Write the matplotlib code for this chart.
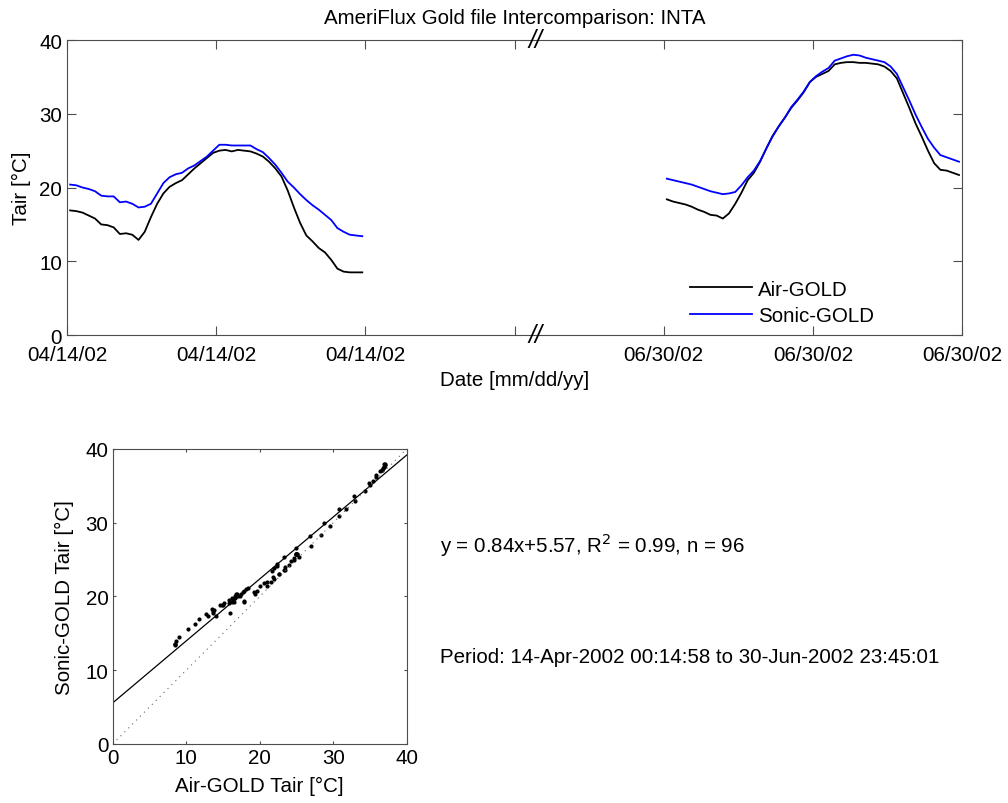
import numpy as np
import matplotlib
matplotlib.use("Agg")
import matplotlib.pyplot as plt

plt.rcParams['font.family'] = ['Liberation Sans', 'DejaVu Sans']
plt.rcParams['font.size'] = 14.8

# half-hourly samples, 00:15 ... 23:45 on each day
air_apr = [16.9, 16.8, 16.6, 16.2, 15.8, 15.0, 14.9, 14.6, 13.7, 13.8, 13.6, 12.9,
           14.0, 16.0, 17.8, 19.2, 20.1, 20.6, 21.0, 21.8, 22.6, 23.3, 24.0, 24.7,
           25.0, 25.1, 24.9, 25.1, 25.0, 24.9, 24.6, 24.2, 23.5, 22.6, 21.5, 19.6,
           17.3, 15.2, 13.5, 12.7, 11.8, 11.2, 10.2, 9.0, 8.6, 8.5, 8.5, 8.5]
sonic_apr = [20.4, 20.3, 20.0, 19.8, 19.5, 18.9, 18.8, 18.8, 18.0, 18.1, 17.8, 17.3,
             17.4, 17.8, 19.2, 20.6, 21.4, 21.8, 22.0, 22.6, 23.0, 23.6, 24.2, 25.0,
             25.8, 25.8, 25.7, 25.7, 25.7, 25.7, 25.2, 24.8, 24.0, 23.1, 22.0, 20.8,
             20.0, 19.1, 18.3, 17.6, 17.0, 16.3, 15.6, 14.5, 14.0, 13.6, 13.5, 13.4]
air_jun = [18.4, 18.1, 17.9, 17.7, 17.4, 17.0, 16.7, 16.3, 16.2, 15.8, 16.5, 17.8,
           19.3, 21.0, 22.0, 23.5, 25.3, 27.0, 28.3, 29.5, 30.8, 31.8, 32.9, 34.3,
           35.0, 35.4, 35.8, 36.7, 36.9, 37.0, 37.0, 36.9, 36.9, 36.8, 36.7, 36.4,
           35.8, 34.8, 32.8, 30.8, 28.7, 26.9, 25.0, 23.3, 22.4, 22.3, 22.0, 21.7]
sonic_jun = [21.2, 21.0, 20.8, 20.6, 20.4, 20.1, 19.8, 19.5, 19.3, 19.1, 19.2, 19.4,
             20.3, 21.4, 22.3, 23.6, 25.3, 26.9, 28.3, 29.5, 30.9, 31.9, 33.0, 34.3,
             35.1, 35.7, 36.2, 37.2, 37.5, 37.8, 38.0, 37.9, 37.6, 37.4, 37.2, 37.0,
             36.4, 35.4, 33.6, 31.8, 29.9, 28.2, 26.6, 25.4, 24.4, 24.1, 23.8, 23.5]

hours = np.arange(48) * 0.5 + 0.25
day_offset = [0, 48]   # second day drawn after the break
tick_labels = ['04/14/02', '04/14/02', '04/14/02', '', '06/30/02', '06/30/02', '06/30/02']

slope, intercept, r2 = 0.84, 5.57, 0.99
frame = '0.3'

fig = plt.figure(figsize=(10.08, 8.04), dpi=100)

# time series panel
ax = fig.add_axes([0.0665, 0.582, 0.888, 0.367])
for i, (a, s) in enumerate([(air_apr, sonic_apr), (air_jun, sonic_jun)]):
    x = hours + day_offset[i]
    ax.plot(x, a, color='k', lw=1.3, label='Air-GOLD' if i == 0 else None)
    ax.plot(x, s, color='#0000ff', lw=1.3, label='Sonic-GOLD' if i == 0 else None)
ax.set_xlim(0, 72)
ax.set_ylim(0, 40)
ax.set_xticks(np.arange(0, 73, 12))
ax.set_xticklabels(tick_labels)
ax.set_yticks([0, 10, 20, 30, 40])
ax.tick_params(direction='in', length=6.5, top=True, right=True, color=frame)
ax.tick_params(axis='x', pad=7.5)
for sp in ax.spines.values():
    sp.set_color(frame)
ax.set_xlabel('Date [mm/dd/yy]', labelpad=4)
ax.set_ylabel('Tair [°C]', labelpad=6)
for yy in (0, 1):
    ax.text(37.7, yy, '//', transform=ax.get_xaxis_transform(), ha='center', va='center',
            fontsize=18, fontstyle='italic', clip_on=False)
ax.legend(loc='lower left', bbox_to_anchor=(0.696, 0.035), frameon=False, borderpad=0,
          borderaxespad=0, handlelength=3.0, handletextpad=0.3, labelspacing=0.35)
fig.text(0.5104, 0.9776, 'AmeriFlux Gold file Intercomparison: INTA', ha='center', va='center')

# scatter panel
ax2 = fig.add_axes([0.1118, 0.0734, 0.2917, 0.367])
air_all = np.array(air_apr + air_jun)
sonic_all = np.array(sonic_apr + sonic_jun)
ax2.plot(air_all, sonic_all, '.', color='k', ms=4)
xl = np.array([0, 40])
ax2.plot(xl, slope * xl + intercept, color='k', lw=0.9)
ax2.plot(xl, xl, color='0.4', lw=0.8, ls=(0, (1, 4)))
ax2.set_xlim(0, 40)
ax2.set_ylim(0, 40)
ax2.set_xticks([0, 10, 20, 30, 40])
ax2.set_yticks([0, 10, 20, 30, 40])
ax2.tick_params(direction='in', length=2.2, top=True, right=True, color=frame, pad=3)
for sp in ax2.spines.values():
    sp.set_color(frame)
ax2.set_xlabel('Air-GOLD Tair [°C]', labelpad=6)
ax2.set_ylabel('Sonic-GOLD Tair [°C]', labelpad=8)

fig.text(0.4365, 1 - 545 / 804,
         'y = %.2fx+%.2f, R$^2$ = %.2f, n = %d' % (slope, intercept, r2, len(air_all)),
         ha='left', va='center')
fig.text(0.4365, 1 - 658 / 804, 'Period: 14-Apr-2002 00:14:58 to 30-Jun-2002 23:45:01',
         ha='left', va='center')

fig.savefig('out.png', dpi=100)
